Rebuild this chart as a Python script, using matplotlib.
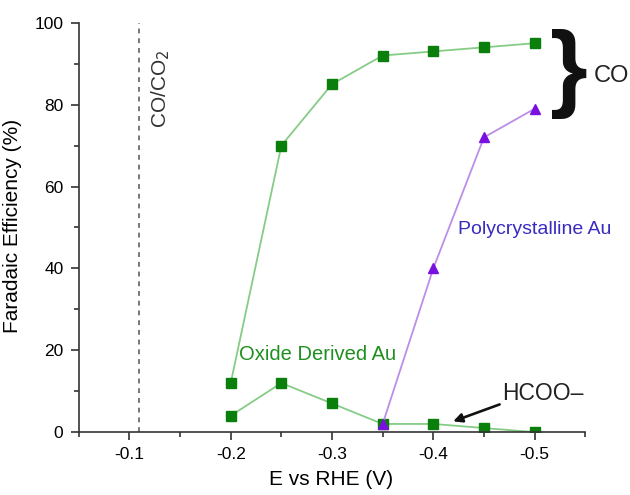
import numpy as np
import matplotlib.pyplot as plt

plt.rcParams['font.family'] = ['Liberation Sans', 'DejaVu Sans']

# data
potential = [-0.20, -0.25, -0.30, -0.35, -0.40, -0.45, -0.50]
fe_co_oxide = [12, 70, 85, 92, 93, 94, 95]
fe_hcoo_oxide = [4, 12, 7, 2, 2, 1, 0]
potential_poly = [-0.35, -0.40, -0.45, -0.50]
fe_co_poly = [2, 40, 72, 79]
eq_potential = -0.109

fig = plt.figure(figsize=(6.3, 4.95), dpi=100)
ax = fig.add_axes([0.125, 0.127, 0.804, 0.827])

green_line = '#86cc86'
green_mark = '#0b7f0b'
purple_line = '#bb8ee8'
purple_mark = '#7a10e0'

ax.axvline(eq_potential, color='#777777', linestyle=(0, (2.5, 2.5)), lw=1.4)

ax.plot(potential, fe_co_oxide, color=green_line, lw=1.3, marker='s', ms=6.5,
        mfc=green_mark, mec=green_mark)
ax.plot(potential, fe_hcoo_oxide, color=green_line, lw=1.3, marker='s', ms=6.5,
        mfc=green_mark, mec=green_mark)
ax.plot(potential_poly, fe_co_poly, color=purple_line, lw=1.3, marker='^', ms=7.5,
        mfc=purple_mark, mec=purple_mark)

ax.set_xlim(-0.05, -0.55)
ax.set_ylim(0, 100)
ax.set_xticks([-0.1, -0.2, -0.3, -0.4, -0.5])
ax.set_xticklabels(['-0.1', '-0.2', '-0.3', '-0.4', '-0.5'])
ax.set_xticks(np.arange(-0.05, -0.56, -0.05), minor=True)
ax.set_yticks([0, 20, 40, 60, 80, 100])
ax.set_yticks(np.arange(10, 100, 20), minor=True)

for s in ['top', 'right']:
    ax.spines[s].set_visible(False)
for s in ['left', 'bottom']:
    ax.spines[s].set_color('#333333')
    ax.spines[s].set_linewidth(1.2)
ax.tick_params(which='major', direction='out', length=6, width=1.2, labelsize=12.5,
               color='#333333', pad=5)
ax.tick_params(which='minor', direction='out', length=3.5, width=1.2, color='#333333')

ax.set_xlabel('E vs RHE (V)', fontsize=15)
ax.set_ylabel('Faradaic Efficiency (%)', fontsize=15)
ax.xaxis.set_label_coords(0.498, -0.093)
ax.yaxis.set_label_coords(-0.113, 0.504)

ax.text(-0.131, 84, 'CO/CO$_2$', rotation=90, ha='center', va='center',
        fontsize=15, color='#333333')
ax.text(-0.208, 19, 'Oxide Derived Au', color='#1f8f1f', fontsize=14.5, va='center')
ax.text(-0.424, 49.5, 'Polycrystalline Au', color='#3a2bc0', fontsize=14, va='center')
ax.text(-0.468, 9.5, 'HCOO\u2013', color='#222222', fontsize=16.5, va='center')
ax.annotate('', xy=(-0.417, 2.4), xytext=(-0.468, 7.0),
            arrowprops=dict(arrowstyle='-|>', color='#111111', lw=1.9, mutation_scale=13),
            annotation_clip=False)
ax.text(-0.534, 87.5, '}', fontsize=70, ha='center', va='center', color='#111111',
        fontweight='bold', clip_on=False)
ax.text(-0.558, 87, 'CO', fontsize=17, ha='left', va='center', color='#222222',
        clip_on=False)

fig.savefig('out.png', dpi=100)
